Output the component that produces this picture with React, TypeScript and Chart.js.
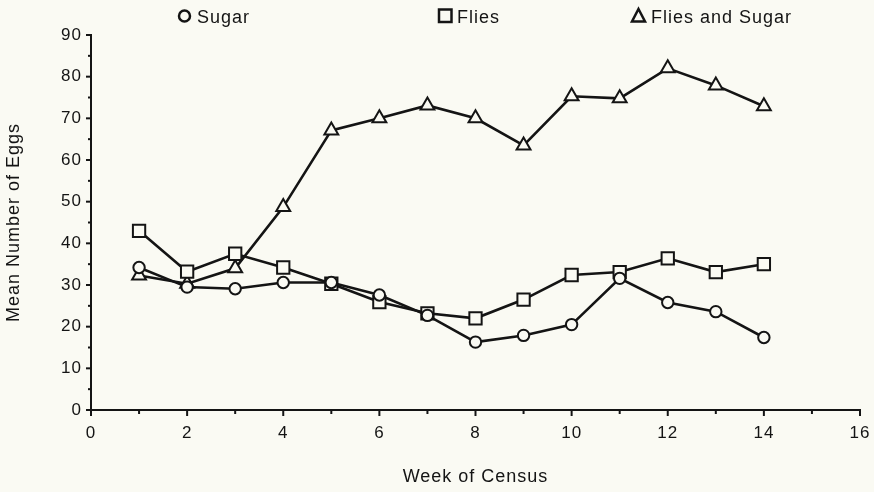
import React, { useEffect, useRef } from "react";
import { Chart, registerables } from "chart.js";

Chart.register(...registerables);

const weeks = [1, 2, 3, 4, 5, 6, 7, 8, 9, 10, 11, 12, 13, 14];
const sugar = [34.2, 29.5, 29.1, 30.6, 30.6, 27.6, 22.7, 16.3, 17.9, 20.5, 31.6, 25.8, 23.6, 17.4];
const flies = [43.0, 33.2, 37.5, 34.2, 30.3, 25.9, 23.2, 22.0, 26.5, 32.4, 33.1, 36.4, 33.1, 35.0];
const fliesSugar = [32.3, 30.3, 34.0, 48.7, 67.1, 70.0, 73.1, 70.0, 63.5, 75.3, 74.8, 82.0, 77.9, 72.9];
const seriesNames = ["Sugar", "Flies", "Flies and Sugar"];
const xTitle = "Week of Census";
const yTitle = "Mean Number of Eggs";

const BG = "#fafaf3";
const INK = "#141414";
const FONT = "'Liberation Sans', Arial, Helvetica, sans-serif";

export default function App() {
  const ref = useRef<HTMLCanvasElement | null>(null);

  useEffect(() => {
    document.body.style.margin = "0";
    document.body.style.background = BG;
    const canvas = ref.current;
    if (!canvas) return;

    const pts = (arr: number[]) => weeks.map((w, i) => ({ x: w, y: arr[i] }));

    const tickPlugin = {
      id: "customTicks",
      beforeDraw(chart: any) {
        const ctx = chart.ctx;
        ctx.save();
        ctx.fillStyle = BG;
        ctx.fillRect(0, 0, chart.width, chart.height);
        ctx.restore();
        try {
          ctx.letterSpacing = "1px";
        } catch (e) {}
      },
      afterDraw(chart: any) {
        const ctx = chart.ctx;
        const xs = chart.scales.x;
        const ys = chart.scales.y;
        const area = chart.chartArea;
        ctx.save();
        ctx.strokeStyle = INK;
        ctx.lineWidth = 2;
        for (let v = 0; v <= 16; v += 1) {
          const px = xs.getPixelForValue(v);
          const len = v % 2 === 0 ? 6 : 4;
          ctx.beginPath();
          ctx.moveTo(px, area.bottom);
          ctx.lineTo(px, area.bottom + len);
          ctx.stroke();
        }
        for (let v = 0; v <= 90; v += 5) {
          const py = ys.getPixelForValue(v);
          const len = v % 10 === 0 ? 5 : 3;
          ctx.beginPath();
          ctx.moveTo(area.left, py);
          ctx.lineTo(area.left - len, py);
          ctx.stroke();
        }
        // legend
        ctx.font = `18px ${FONT}`;
        ctx.fillStyle = INK;
        ctx.textBaseline = "alphabetic";
        ctx.textAlign = "left";
        ctx.lineWidth = 2.5;
        ctx.beginPath();
        ctx.arc(184.5, 16, 5.5, 0, Math.PI * 2);
        ctx.stroke();
        ctx.fillText(seriesNames[0], 197, 22.5);
        ctx.strokeRect(439, 9.5, 12.5, 12.5);
        ctx.fillText(seriesNames[1], 457, 22.5);
        ctx.beginPath();
        ctx.moveTo(638.5, 9);
        ctx.lineTo(645, 21.5);
        ctx.lineTo(632, 21.5);
        ctx.closePath();
        ctx.stroke();
        ctx.fillText(seriesNames[2], 651, 22.5);
        ctx.restore();
      },
    };

    const common = {
      borderColor: INK,
      borderWidth: 2.6,
      pointBackgroundColor: BG,
      pointBorderColor: INK,
      pointBorderWidth: 2,
      pointHoverRadius: 0,
      tension: 0,
      fill: false,
    };

    const chart = new Chart(canvas, {
      type: "scatter",
      data: {
        datasets: [
          { ...common, label: seriesNames[0], data: pts(sugar), showLine: true, pointStyle: "circle", pointRadius: 5.7 },
          { ...common, label: seriesNames[1], data: pts(flies), showLine: true, pointStyle: "rect", pointRadius: 8.7 },
          { ...common, label: seriesNames[2], data: pts(fliesSugar), showLine: true, pointStyle: "triangle", pointRadius: 8 },
        ],
      },
      options: {
        animation: false,
        responsive: false,
        events: [],
        layout: { padding: { top: 35, right: 14, bottom: 0, left: 0 } },
        plugins: { legend: { display: false }, tooltip: { enabled: false } },
        scales: {
          x: {
            type: "linear",
            min: 0,
            max: 16,
            afterFit: (s: any) => {
              s.height = 82;
              s.paddingRight = 0;
              s.paddingLeft = 0;
            },
            ticks: {
              stepSize: 2,
              color: INK,
              padding: 13,
              font: { family: FONT, size: 17 },
              maxRotation: 0,
            },
            grid: { display: true, drawOnChartArea: false, drawTicks: false, color: "rgba(0,0,0,0)" },
            border: { display: true, color: INK, width: 2 },
            title: {
              display: true,
              text: xTitle,
              color: INK,
              font: { family: FONT, size: 18 },
              padding: { top: 0, bottom: 4 },
            },
          },
          y: {
            type: "linear",
            min: 0,
            max: 90,
            afterFit: (s: any) => {
              s.width = 91;
              s.paddingTop = 0;
              s.paddingBottom = 0;
            },
            ticks: {
              stepSize: 10,
              color: INK,
              padding: 9,
              font: { family: FONT, size: 17 },
            },
            grid: { display: true, drawOnChartArea: false, drawTicks: false, color: "rgba(0,0,0,0)" },
            border: { display: true, color: INK, width: 2 },
            title: {
              display: true,
              text: yTitle,
              color: INK,
              font: { family: FONT, size: 18 },
              padding: { top: 3, bottom: 0 },
            },
          },
        },
      },
      plugins: [tickPlugin],
    } as any);

    return () => chart.destroy();
  }, []);

  return (
    <div style={{ width: 874, height: 492, background: BG }}>
      <canvas ref={ref} width={874} height={492} style={{ display: "block", width: 874, height: 492 }} />
    </div>
  );
}
